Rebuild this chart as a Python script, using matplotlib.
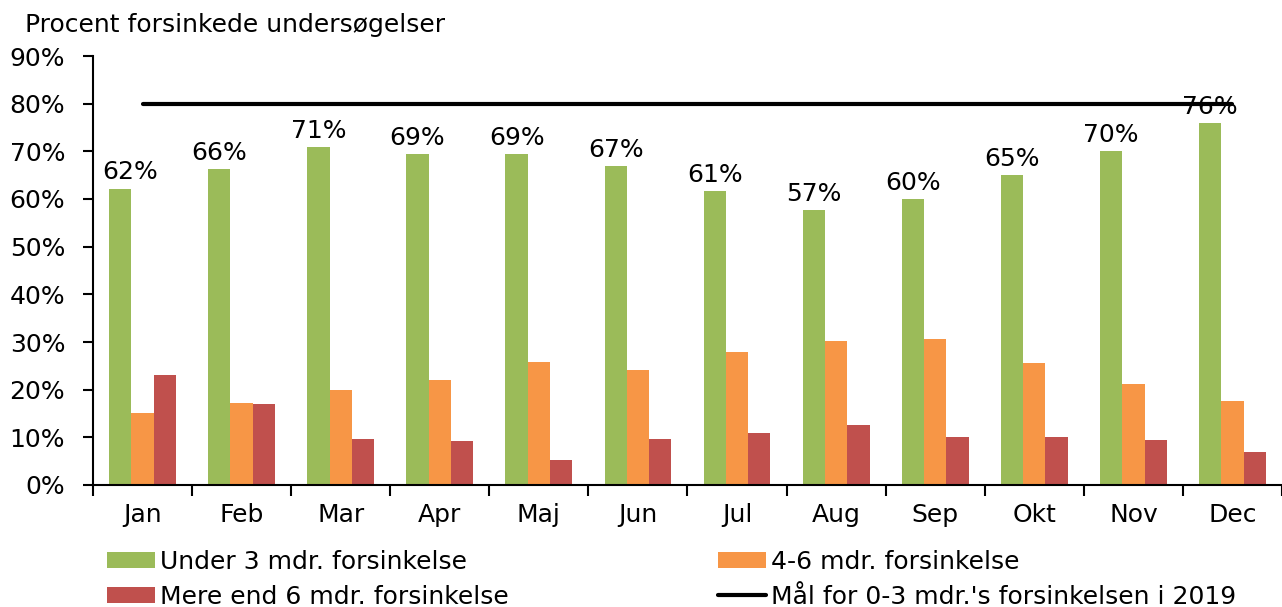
import matplotlib
matplotlib.use("Agg")
import matplotlib.pyplot as plt
import numpy as np

# data (percent)
months = ["Jan", "Feb", "Mar", "Apr", "Maj", "Jun", "Jul", "Aug", "Sep", "Okt", "Nov", "Dec"]
under3 = [62.2, 66.3, 70.9, 69.4, 69.4, 66.9, 61.6, 57.7, 59.9, 65.0, 70.1, 76.0]
mdr4_6 = [15.2, 17.2, 20.0, 22.0, 25.9, 24.1, 28.0, 30.2, 30.6, 25.6, 21.1, 17.6]
over6 = [23.0, 16.9, 9.6, 9.2, 5.2, 9.6, 11.0, 12.6, 10.0, 10.0, 9.4, 6.9]
labels = ["62%", "66%", "71%", "69%", "69%", "67%", "61%", "57%", "60%", "65%", "70%", "76%"]
goal = 80

plt.rcParams['font.family'] = ['DejaVu Sans']
fs = 18

fig = plt.figure(figsize=(12.82, 6.07), dpi=100)
ax = fig.add_axes([93/1282, 122/607, (1282-93)/1282, 429/607])

x = np.arange(len(months))
w = 0.225
b1 = ax.bar(x - w, under3, w, color="#9BBB59", label="Under 3 mdr. forsinkelse")
b2 = ax.bar(x, mdr4_6, w, color="#F79646", label="4-6 mdr. forsinkelse")
b3 = ax.bar(x + w, over6, w, color="#C0504D", label="Mere end 6 mdr. forsinkelse")
ln, = ax.plot([x[0], x[-1]], [goal, goal], color="black", lw=3, solid_capstyle="round",
              label="Mål for 0-3 mdr.'s forsinkelsen i 2019")

# Jan label sits a bit to the right in the original
for i, (xi, v, t) in enumerate(zip(x, under3, labels)):
    dx = 7 if i == 0 else 0
    ax.annotate(t, (xi - w, v), xytext=(dx, 3), textcoords="offset points",
                ha="center", va="bottom", fontsize=fs)

ax.set_ylim(0, 90)
ax.set_xlim(-0.5, 11.44)
ax.set_yticks(np.arange(0, 91, 10))
ax.set_yticklabels([f"{v}%" for v in range(0, 91, 10)], fontsize=fs)
ax.set_xticks(np.arange(-0.5, 12, 1))
ax.set_xticklabels([])
ax.set_xticks(x, minor=True)
ax.set_xticklabels(months, minor=True, fontsize=fs)
ax.tick_params(axis="x", which="major", length=8, width=1.5, direction="out")
ax.tick_params(axis="x", which="minor", length=0, pad=13)
ax.tick_params(axis="y", length=7, width=1.5, direction="out", pad=13)
for s in ["top", "right"]:
    ax.spines[s].set_visible(False)
ax.spines["left"].set_linewidth(1.5)
ax.spines["bottom"].set_linewidth(1.5)

fig.text(25/1282, 1 - 25/607, "Procent forsinkede undersøgelser", va="center", ha="left", fontsize=fs)

fig.legend([b1, b3, b2, ln], [b1.get_label(), b3.get_label(), b2.get_label(), ln.get_label()],
           ncol=2, loc="upper left", bbox_to_anchor=(107/1282, 1 - 550/607),
           frameon=False, borderpad=0, borderaxespad=0, handlelength=1.9, handleheight=0.6,
           handletextpad=0.2, columnspacing=8.4, labelspacing=0.42, fontsize=fs)

fig.savefig("out.png", dpi=100)
